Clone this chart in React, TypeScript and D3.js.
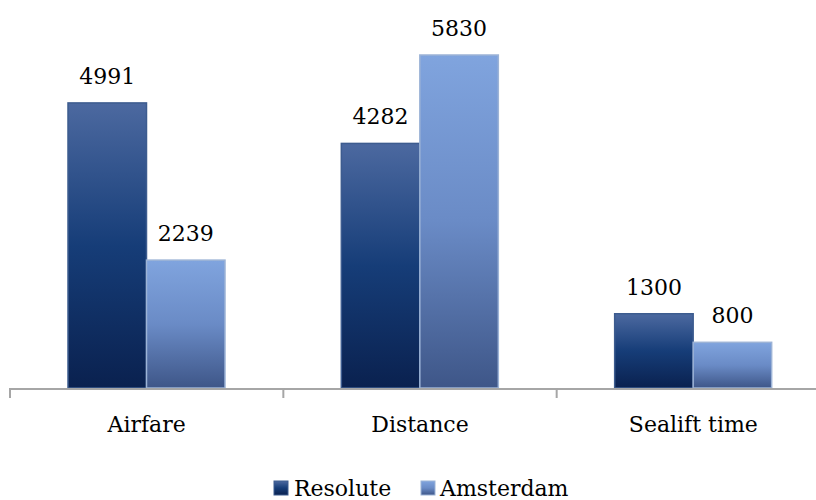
import React from 'react'
import * as d3 from 'd3'

const categories = ['Airfare', 'Distance', 'Sealift time']
const seriesNames = ['Resolute', 'Amsterdam']
const resolute = [4991, 4282, 1300]
const amsterdam = [2239, 5830, 800]

const W = 816
const H = 500
const font = '"DejaVu Serif", serif'

export default function App() {
    const x0 = d3.scaleBand().domain(categories).range([10, 830])
    const x1 = d3.scaleBand().domain(seriesNames).range([58, 215])
    const y = d3.scaleLinear().domain([0, 5830]).range([388, 55])
    const values = [resolute, amsterdam]
    const fills = ['url(#g0)', 'url(#g1)']
    const strokes = ['#3d5c8f', '#9cb3d6']

    const ticks = [...categories.map(c => x0(c) as number), 830]

    // legend layout
    const legend = [
        { name: seriesNames[0], sq: 274, tx: 294 },
        { name: seriesNames[1], sq: 421, tx: 440 },
    ]

    return (
        <svg width={W} height={H} style={{ position: 'absolute', left: 0, top: 0 }}>
            <defs>
                <linearGradient id="g0" x1="0" y1="0" x2="0" y2="1">
                    <stop offset="0" stopColor="#4c69a0" />
                    <stop offset="0.5" stopColor="#163d78" />
                    <stop offset="1" stopColor="#0a214f" />
                </linearGradient>
                <linearGradient id="g1" x1="0" y1="0" x2="0" y2="1">
                    <stop offset="0" stopColor="#80a4de" />
                    <stop offset="0.5" stopColor="#6a8bc6" />
                    <stop offset="1" stopColor="#3e5688" />
                </linearGradient>
            </defs>
            {categories.map((c, i) =>
                seriesNames.map((s, j) => {
                    const bx = (x0(c) as number) + (x1(s) as number)
                    const v = values[j][i]
                    return (
                        <g key={c + s}>
                            <rect x={bx} y={y(v)} width={x1.bandwidth()} height={y(0) - y(v)}
                                fill={fills[j]} stroke={strokes[j]} strokeWidth={1.5} />
                            <text x={bx + x1.bandwidth() / 2} y={y(v) - 19} textAnchor="middle"
                                fontFamily={font} fontSize={22} fill="#000">{v}</text>
                        </g>
                    )
                })
            )}
            <line x1={9} x2={W} y1={389} y2={389} stroke="#a6a6a6" strokeWidth={2} />
            {ticks.map((t, i) => (
                <line key={i} x1={t} x2={t} y1={388} y2={398} stroke="#a6a6a6" strokeWidth={2} />
            ))}
            {categories.map(c => (
                <text key={c} x={(x0(c) as number) + x0.bandwidth() / 2} y={432} textAnchor="middle"
                    fontFamily={font} fontSize={22} fill="#000">{c}</text>
            ))}
            {legend.map((l, j) => (
                <g key={l.name}>
                    <rect x={l.sq} y={481} width={14} height={14} fill={fills[j]} stroke={strokes[j]} />
                    <text x={l.tx} y={496} fontFamily={font} fontSize={22} fill="#000">{l.name}</text>
                </g>
            ))}
        </svg>
    )
}
